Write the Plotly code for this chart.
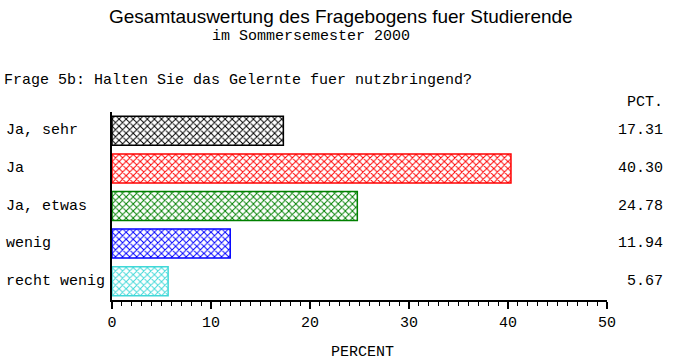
import plotly.graph_objects as go

categories = ["Ja, sehr", "Ja", "Ja, etwas", "wenig", "recht wenig"]
values = [17.31, 40.30, 24.78, 11.94, 5.67]
value_labels = ["17.31", "40.30", "24.78", "11.94", "5.67"]
colors = ["#000000", "#ff0000", "#008000", "#0000ff", "#40d8d8"]
x_ticks = [0, 10, 20, 30, 40, 50]

MONO = "Liberation Mono, Courier New, monospace"
SANS = "Liberation Sans, Arial, sans-serif"

W, H = 685, 364
L, R, T, B = 112, 78, 112, 64
pw = W - L - R

def px_x(px):
    return (px - L) / pw

fig = go.Figure()
fig.add_trace(go.Bar(
    y=categories, x=values, orientation="h", width=0.77,
    marker=dict(
        color=colors,
        line=dict(color=colors, width=1.5),
        pattern=dict(shape="x", fgcolor="white", bgcolor=colors, size=5, solidity=0.35, fillmode="replace"),
    ),
    showlegend=False, hoverinfo="skip",
))

annotations = []
for c, lab in zip(categories, value_labels):
    annotations.append(dict(x=px_x(4), xref="paper", y=c, yref="y", text=c, showarrow=False,
                            xanchor="left", yanchor="middle", font=dict(family=MONO, size=15, color="black")))
    annotations.append(dict(x=px_x(665), xref="paper", y=c, yref="y", text=lab, showarrow=False,
                            xanchor="right", yanchor="middle", font=dict(family=MONO, size=15, color="black")))
annotations += [
    dict(x=px_x(665), xref="paper", y=1 + (T - 102) / (H - T - B), yref="paper", text="PCT.", showarrow=False,
         xanchor="right", yanchor="middle", font=dict(family=MONO, size=15, color="black")),
    dict(x=px_x(2), xref="paper", y=1 + (T - 80) / (H - T - B), yref="paper",
         text="Frage 5b: Halten Sie das Gelernte fuer nutzbringend?", showarrow=False,
         xanchor="left", yanchor="middle", font=dict(family=MONO, size=15, color="black")),
    dict(x=px_x(341), xref="paper", y=1 + (T - 16) / (H - T - B), yref="paper",
         text="Gesamtauswertung des Fragebogens fuer Studierende", showarrow=False,
         xanchor="center", yanchor="middle", font=dict(family=SANS, size=19, color="black")),
    dict(x=px_x(311), xref="paper", y=1 + (T - 36) / (H - T - B), yref="paper",
         text="im Sommersemester 2000", showarrow=False,
         xanchor="center", yanchor="middle", font=dict(family=MONO, size=15, color="black")),
    dict(x=px_x(362), xref="paper", y=-(352 - (H - B)) / (H - T - B), yref="paper",
         text="PERCENT", showarrow=False,
         xanchor="center", yanchor="middle", font=dict(family=MONO, size=15, color="black")),
]

fig.update_layout(
    width=W, height=H,
    margin=dict(l=L, r=R, t=T, b=B, pad=0),
    paper_bgcolor="white", plot_bgcolor="white",
    bargap=0.23,
    xaxis=dict(range=[0, 50], tickvals=x_ticks, ticks="outside", ticklen=7, tickwidth=1.5,
               tickcolor="black", showline=True, linecolor="black", linewidth=1.5,
               showgrid=False, zeroline=False,
               tickfont=dict(family=MONO, size=15, color="black"),
               minor=dict(dtick=1, ticks="outside", ticklen=4, tickwidth=1, tickcolor="black", showgrid=False)),
    yaxis=dict(range=[4.5, -0.5], showline=True, linecolor="black", linewidth=1.5,
               showticklabels=False, ticks="", showgrid=False, zeroline=False),
    annotations=annotations,
)

fig.write_html("out.html")
